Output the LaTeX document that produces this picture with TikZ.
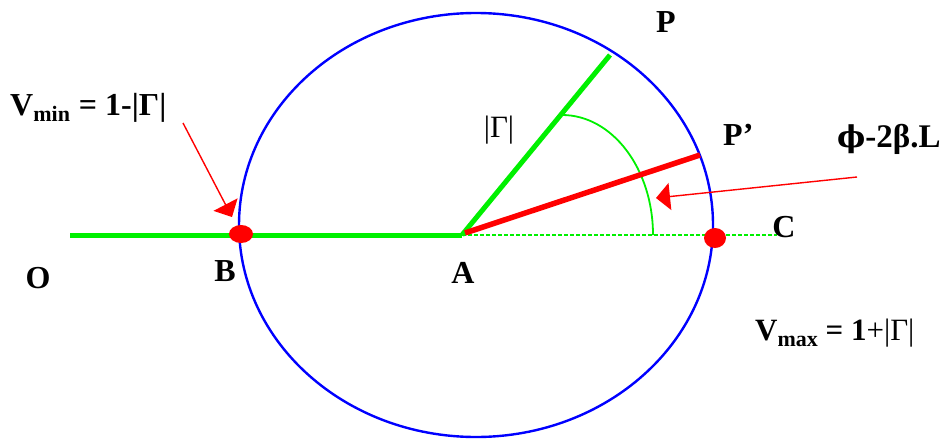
\documentclass[tikz,border=0pt]{standalone}
\usepackage{fontspec}
\setmainfont{Liberation Serif}
\newfontfamily\phifont{DejaVu Serif}
\usetikzlibrary{arrows.meta}
\definecolor{lgreen}{RGB}{0,240,0}
\definecolor{pred}{RGB}{255,0,0}
\definecolor{pblue}{RGB}{0,0,255}
\begin{document}
\begin{tikzpicture}[x=1pt,y=-1pt,
  lbl/.style={font=\fontsize{32}{38}\selectfont\bfseries, inner sep=0pt, anchor=base},
  thickgreen/.style={draw=lgreen, line width=5pt},
  thickred/.style={draw=pred, line width=5.5pt},
  pointer/.style={draw=pred, line width=1.4pt, -{Triangle[length=14pt,width=27pt]}},
  dot/.style={fill=pred, draw=none}]
\useasboundingbox (0,0) rectangle (944,439);
% key points
\coordinate (O) at (70,235);
\coordinate (A) at (462,235);
\coordinate (Ared) at (465,233);
\coordinate (P) at (610,55);
\coordinate (Pp) at (700,155);
\coordinate (C) at (777,235);
\coordinate (B) at (241,234);
\coordinate (Cdot) at (715,238);
\coordinate (arcR) at (653,235);
\coordinate (s1) at (183,123);
\coordinate (t1) at (232,217);
\coordinate (s2) at (857,177);
\coordinate (t2) at (656,198);
% circle
\draw[pblue, line width=2.4pt] (476,225) ellipse[x radius=237, y radius=212];
% lines
\draw[thickgreen] (O) -- (A);
\draw[draw=lgreen, line width=1.1pt, dash pattern=on 4pt off 2pt] (A) -- (C);
\draw[thickgreen] (A) -- (P);
\draw[draw=lgreen, line width=1.8pt] (arcR) arc[start angle=0, end angle=-90, x radius=91, y radius=120];
\draw[thickred] (Ared) -- (Pp);
% dots
\fill[dot] (B) ellipse[x radius=12, y radius=9];
\fill[dot] (Cdot) ellipse[x radius=11, y radius=10];
% pointers
\draw[pointer] (s1) -- (t1);
\draw[pointer] (s2) -- (t2);
% labels
\node[lbl] (lO) at (38,288) {O};
\node[lbl] (lB) at (225,281) {B};
\node[lbl] (lA) at (463,283) {A};
\node[lbl] (lP) at (666,32) {P};
\node[lbl, anchor=base west] (lPp) at (723,145) {P’};
\node[lbl] (lC) at (784,237) {C};
\node[inner sep=0pt, anchor=base, font=\fontsize{31}{36}\selectfont] (lG) at (499,137) {|Γ|};
\node[lbl, anchor=base west, font=\fontsize{33}{38}\selectfont\bfseries] (lphi) at (837,147) {{\phifont\fontsize{30}{36}\selectfont ϕ}-2β.L};
\node[lbl, anchor=base west] (lmin) at (10,115) {V\raisebox{-6pt}{\fontsize{22}{26}\selectfont min}\hspace{9pt}= 1-|Γ|};
\node[lbl, anchor=base west, font=\fontsize{31}{36}\selectfont\bfseries] (lmax) at (755,340) {V\raisebox{-6pt}{\fontsize{22}{26}\selectfont max} = 1\textmd{+|Γ|}};
\end{tikzpicture}
\end{document}
